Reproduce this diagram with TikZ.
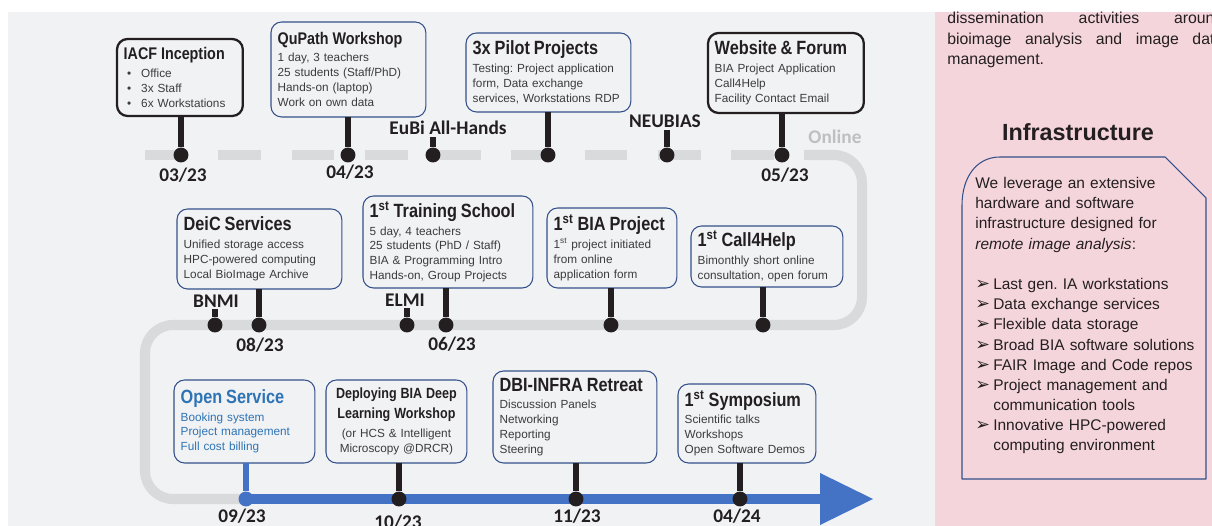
\documentclass[tikz,border=0pt]{standalone}
\usepackage{fontspec}
\setmainfont{Liberation Sans}
\newfontfamily\condfont{Liberation Sans}[FakeStretch=0.85]
\newfontfamily\calfont{Carlito}
\newfontfamily\symfont{DejaVu Sans}
\frenchspacing
\definecolor{canvas}{HTML}{F1F2F4}
\definecolor{panel}{HTML}{F5D5DC}
\definecolor{track}{HTML}{D9DADC}
\definecolor{ink}{HTML}{231F20}
\definecolor{body}{HTML}{3C3C3C}
\definecolor{edge}{HTML}{34508A}
\definecolor{tlblue}{HTML}{4472C4}
\definecolor{svcblue}{HTML}{2E74B5}
\definecolor{online}{HTML}{BFBFBF}
% heading line of an event box
\def\titlesize{10.9}
\newcommand\evtitle[2][ink]{\leavevmode{\condfont\bfseries\fontsize{\titlesize}{12}\selectfont\color{#1}#2}\\[1.5pt]}
\newcommand\bul{\hspace*{2pt}\makebox[8pt][l]{\textbullet}}
\newcommand\tip{\makebox[10.2pt][l]{\symfont\fontsize{10}{10}\selectfont ➢}}
\begin{document}
\begin{tikzpicture}[x=0.02cm, y=-0.02cm, line join=round, line cap=round,
    every node/.style={font=\fontsize{6.7}{8.5}\selectfont, text=body},
    event/.style 2 args={draw=edge, line width=0.6pt, rounded corners=6pt, fill=canvas,
      anchor=north west, align=left, inner xsep=3.8pt, inner ysep=0pt, outer sep=0pt,
      text width=#1, minimum height=#2},
    keyevent/.style 2 args={event={#1}{#2}, draw=ink, line width=1.3pt},
    dot/.style={circle, fill=ink, inner sep=0pt, minimum size=8.5pt},
    stem/.style={draw=ink, line width=3.1pt, line cap=butt},
    date/.style={font=\calfont\bfseries\fontsize{11}{13}\selectfont, text=ink, inner sep=1pt},
    track/.style={draw=track, line width=5.7pt, line cap=butt}]
  \useasboundingbox (0,0) rectangle (1212,526);
  \clip (0,0) rectangle (1212,526);
  \fill[white] (0,0) rectangle (1212,526);
  \fill[canvas] (8,12) rectangle (935,526);
  \fill[panel] (935,12) rectangle (1212,526);

  % the track
  \coordinate (c0923) at (246,499);
  \coordinate (tlend) at (873,499);
  \draw[track, dash pattern=on 24.4pt off 17.3pt] (145,155) -- (806,155);
  \draw[track, rounded corners=16pt] (806,155) -- (862,155) -- (862,325) -- (145,325) -- (145,499) -- (c0923);
  \draw[tlblue, line width=6.2pt, line cap=butt] (c0923) -- (820,499);
  \fill[tlblue] (820,473) -- (tlend) -- (820,525) -- cycle;

  % events
  \node[keyevent={2.25cm}{1.54cm}] (iacf) at (117,39) {\def\titlesize{9.6}\evtitle{IACF Inception}\bul Office\\\bul 3x Staff\\\bul 6x Workstations};
  \node[event={2.83cm}{1.90cm}] (qupath) at (271,22) {\def\titlesize{9.6}\evtitle{QuPath Workshop}1 day, 3 teachers\\25 students (Staff/PhD)\\Hands-on (laptop)\\Work on own data};
  \node[event={3.03cm}{1.58cm}] (pilot) at (466,33) {\evtitle{3x Pilot Projects}Testing: Project application\\form, Data exchange\\services, Workstations RDP};
  \node[keyevent={2.85cm}{1.60cm}] (website) at (708,33) {\evtitle{Website \& Forum}BIA Project Application\\Call4Help\\Facility Contact Email};

  \node[event={3.03cm}{1.60cm}] (deic) at (177,209) {\evtitle{DeiC Services}Unified storage access\\HPC-powered computing\\Local BioImage Archive};
  \node[event={3.13cm}{1.84cm}] (school) at (363,196) {\evtitle{1\textsuperscript{st} Training School}5 day, 4 teachers\\25 students (PhD / Staff)\\BIA \& Programming Intro\\Hands-on, Group Projects};
  \node[event={2.33cm}{1.60cm}] (biaproj) at (547,208) {\evtitle{1\textsuperscript{st} BIA Project}1\textsuperscript{st} project initiated\\from online\\application form};
  \node[event={2.77cm}{1.22cm}] (help) at (691,226) {\evtitle{1\textsuperscript{st} Call4Help}Bimonthly short online\\consultation, open forum};

  \node[event={2.55cm}{1.66cm}, text=svcblue] (open) at (174,380) {\evtitle[svcblue]{Open Service}Booking system\\Project management\\Full cost billing};
  \node[event={2.55cm}{1.66cm}, align=center] (deploy) at (326,380) {\leavevmode{\condfont\bfseries\fontsize{8.4}{10}\selectfont\color{ink}Deploying BIA Deep\\[2.8pt]Learning Workshop}\\[2.3pt](or HCS \& Intelligent\\Microscopy @DRCR)};
  \node[event={3.01cm}{1.84cm}] (retreat) at (493,371) {\evtitle{DBI-INFRA Retreat}Discussion Panels\\Networking\\Reporting\\Steering};
  \node[event={2.49cm}{1.58cm}] (sympo) at (678,384) {\evtitle{1\textsuperscript{st} Symposium}Scientific talks\\Workshops\\Open Software Demos};

  % milestones on the track
  \node[dot] (d0323) at (181,155) {};
  \node[dot] (d0423) at (348,155) {};
  \node[dot] (deubi) at (433,155) {};
  \node[dot] (dpilot) at (548,155) {};
  \node[dot] (dneubias) at (667,155) {};
  \node[dot] (d0523) at (782,155) {};
  \node[dot] (dbnmi) at (215,325) {};
  \node[dot] (d0823) at (259,325) {};
  \node[dot] (delmi) at (407,325) {};
  \node[dot] (d0623) at (446,325) {};
  \node[dot] (dbia) at (611,325) {};
  \node[dot] (dhelp) at (763,325) {};
  \node[dot, fill=tlblue] (d0923) at (c0923) {};
  \node[dot] (d1023) at (399,499) {};
  \node[dot] (d1123) at (576,499) {};
  \node[dot] (d0424) at (740,499) {};

  % dates and meetings
  \node[date] (l0323) at (183,175) {03/23};
  \node[date] (l0423) at (350,172) {04/23};
  \node[date] (eubi) at (448,128) {EuBi All-Hands};
  \node[date] (neubias) at (665,121) {NEUBIAS};
  \node[date] (l0523) at (785,175) {05/23};
  \node[date, text=online] (online) at (835,137) {Online};
  \node[date] (bnmi) at (216,301) {BNMI};
  \node[date] (l0823) at (260,345) {08/23};
  \node[date] (elmi) at (405,300) {ELMI};
  \node[date] (l0623) at (452,344) {06/23};
  \node[date] (l0923) at (242,516) {09/23};
  \node[date] (l1023) at (398,522) {10/23};
  \node[date] (l1123) at (577,516) {11/23};
  \node[date] (l0424) at (737,516) {04/24};

  \draw[stem] (d0323) -- (d0323 |- iacf.south);
  \draw[stem] (d0423) -- (d0423 |- qupath.south);
  \draw[stem] (deubi) -- (deubi |- eubi.south);
  \draw[stem] (dpilot) -- (dpilot |- pilot.south);
  \draw[stem] (dneubias) -- (dneubias |- neubias.south);
  \draw[stem] (d0523) -- (d0523 |- website.south);
  \draw[stem] (dbnmi) -- (dbnmi |- bnmi.south);
  \draw[stem] (d0823) -- (d0823 |- deic.south);
  \draw[stem] (delmi) -- (delmi |- elmi.south);
  \draw[stem] (d0623) -- (d0623 |- school.south);
  \draw[stem] (dbia) -- (dbia |- biaproj.south);
  \draw[stem] (dhelp) -- (dhelp |- help.south);
  \draw[stem, draw=tlblue] (d0923) -- (d0923 |- open.south);
  \draw[stem] (d1023) -- (d1023 |- deploy.south);
  \draw[stem] (d1123) -- (d1123 |- retreat.south);
  \draw[stem] (d0424) -- (d0424 |- sympo.south);

  % side panel
  \node[anchor=north west, inner sep=0pt, text width=5.52cm, align=left, text=ink,
    font=\fontsize{9}{11.6}\selectfont] (dissem) at (947,12)
    {dissemination\hfill activities\hfill around\\bioimage\hfill analysis\hfill and\hfill image\hfill data\\management.};
  \node[font=\bfseries\fontsize{13.3}{16}\selectfont, text=ink] (infrahead) at (1078,132) {Infrastructure};
  \draw[edge, line width=0.6pt] (962,479) -- (962,205) .. controls (962,178) and (976,157) .. (1000,157)
    -- (1165,157) -- (1206,198) -- (1206,479) -- cycle;
  \node[anchor=north west, inner sep=0pt, text width=4.5cm, align=left, text=ink,
    font=\fontsize{8.8}{11.5}\selectfont] (infratext) at (975,177)
    {We leverage an extensive\\hardware and software\\infrastructure designed for\\\textit{remote image analysis}:};
  \node[anchor=north west, inner sep=0pt, text width=4.5cm, align=left, text=ink,
    font=\fontsize{8.8}{11.48}\selectfont] (infralist) at (975,278)
    {\tip Last gen. IA workstations\\\tip Data exchange services\\\tip Flexible data storage\\
     \tip Broad BIA software solutions\\\tip FAIR Image and Code repos\\\tip Project management and\\
     \hspace*{10.2pt}communication tools\\\tip Innovative HPC-powered\\\hspace*{10.2pt}computing environment};
\end{tikzpicture}
\end{document}
